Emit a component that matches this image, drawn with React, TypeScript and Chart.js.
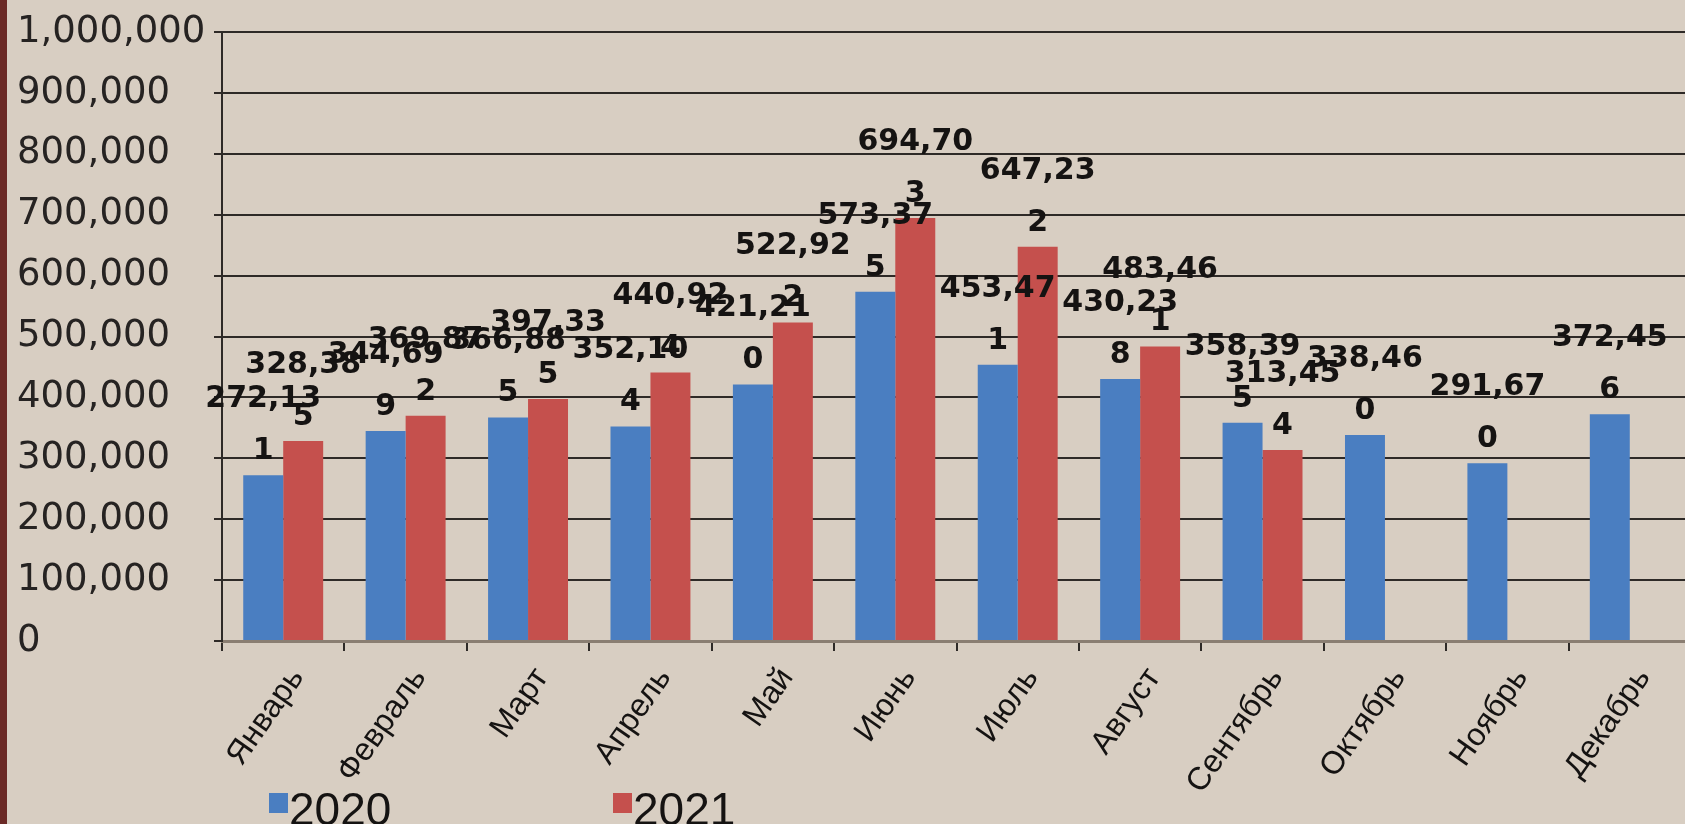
import React, { useEffect, useRef } from "react";
import { Chart, registerables } from "chart.js";

Chart.register(...registerables);

const months = [
  "Январь", "Февраль", "Март", "Апрель", "Май", "Июнь",
  "Июль", "Август", "Сентябрь", "Октябрь", "Ноябрь", "Декабрь",
];
const values2020 = [272131, 344699, 366885, 352104, 421210, 573375, 453471, 430238, 358395, 338460, 291670, 372456];
const values2021 = [328385, 369872, 397335, 440924, 522922, 694703, 647232, 483461, 313454, null, null, null];
const seriesNames = ["2020", "2021"];
const yMin = 0;
const yMax = 1000000;
const yStep = 100000;

const BLUE = "#4A7EC1";
const RED = "#C5504D";
const BG = "#D8CEC2";
const GRID = "#2e2a27";
const TEXT = "#151312";
const SANS = "'Liberation Sans', sans-serif";

const fmt = (v: number) => v.toLocaleString("en-US");

const dataLabelPlugin = {
  id: "wrappedDataLabels",
  afterDatasetsDraw(chart: any) {
    const ctx = chart.ctx;
    ctx.save();
    ctx.font = "bold 30px 'DejaVu Sans'";
    ctx.fillStyle = TEXT;
    ctx.textAlign = "center";
    ctx.textBaseline = "middle";
    chart.data.datasets.forEach((ds: any, di: number) => {
      const meta = chart.getDatasetMeta(di);
      meta.data.forEach((el: any, i: number) => {
        const v = ds.data[i];
        if (v === null || v === undefined) return;
        const s = fmt(v);
        const line1 = s.slice(0, -1);
        const line2 = s.slice(-1);
        ctx.fillText(line2, el.x, el.y - 24);
        ctx.fillText(line1, el.x, el.y - 76);
      });
    });
    ctx.restore();
  },
};

const legendPlugin = {
  id: "bottomLegend",
  afterDraw(chart: any) {
    const ctx = chart.ctx;
    const left = chart.chartArea.left;
    const h = chart.height;
    const items = [
      { name: seriesNames[0], color: BLUE, x: left + 47 },
      { name: seriesNames[1], color: RED, x: left + 391 },
    ];
    ctx.save();
    ctx.font = "46px " + SANS;
    ctx.textAlign = "left";
    ctx.textBaseline = "alphabetic";
    items.forEach((it) => {
      ctx.fillStyle = it.color;
      ctx.fillRect(it.x, h - 31, 19, 20);
      ctx.fillStyle = TEXT;
      ctx.fillText(it.name, it.x + 20, h + 1);
    });
    ctx.restore();
  },
};

export default function App() {
  const ref = useRef<HTMLCanvasElement | null>(null);

  useEffect(() => {
    if (!ref.current) return;
    const chart = new Chart(ref.current, {
      type: "bar",
      data: {
        labels: months,
        datasets: [
          {
            label: seriesNames[0],
            data: values2020,
            backgroundColor: BLUE,
            borderWidth: 0,
            categoryPercentage: 0.653,
            barPercentage: 1.0,
          },
          {
            label: seriesNames[1],
            data: values2021 as any,
            backgroundColor: RED,
            borderWidth: 0,
            categoryPercentage: 0.653,
            barPercentage: 1.0,
          },
        ],
      },
      options: {
        animation: false,
        responsive: false,
        devicePixelRatio: 1,
        layout: { padding: { left: 17, top: 32, right: 9, bottom: 0 } },
        plugins: {
          legend: { display: false },
          tooltip: { enabled: false },
        },
        scales: {
          x: {
            offset: true,
            grid: {
              display: true,
              offset: true,
              drawOnChartArea: false,
              drawTicks: true,
              tickLength: 10,
              color: GRID,
              lineWidth: 2,
            },
            border: { display: true, color: "#8a7e72", width: 3 },
            ticks: {
              maxRotation: 55,
              minRotation: 55,
              autoSkip: false,
              labelOffset: 14,
              padding: 10,
              color: TEXT,
              font: { family: SANS, size: 32 },
            },
            afterFit: (s: any) => {
              s.height = 183;
            },
          },
          y: {
            min: yMin,
            max: yMax,
            ticks: {
              stepSize: yStep,
              callback: (v: any) => fmt(Number(v)),
              crossAlign: "far",
              padding: 0,
              color: "#262322",
              font: { family: "'DejaVu Sans'", size: 37 },
            },
            grid: {
              color: (c: any) => (c.tick && c.tick.value === 0 ? "rgba(0,0,0,0)" : GRID),
              tickColor: GRID,
              lineWidth: 2,
              tickLength: 8,
              drawTicks: true,
            },
            border: { display: true, color: GRID, width: 2 },
            afterFit: (s: any) => {
              s.width = 205;
            },
          },
        },
      },
      plugins: [dataLabelPlugin, legendPlugin],
    });
    return () => chart.destroy();
  }, []);

  return (
    <div
      style={{
        position: "fixed",
        left: 0,
        top: 0,
        width: 1685,
        height: 824,
        overflow: "hidden",
        background: BG,
      }}
    >
      <canvas
        ref={ref}
        width={1700}
        height={824}
        style={{ position: "absolute", left: 0, top: 0, width: 1700, height: 824 }}
      />
      <div
        style={{
          position: "absolute",
          left: 0,
          top: 0,
          width: 7,
          height: 824,
          background: "#6B2A26",
        }}
      />
    </div>
  );
}
